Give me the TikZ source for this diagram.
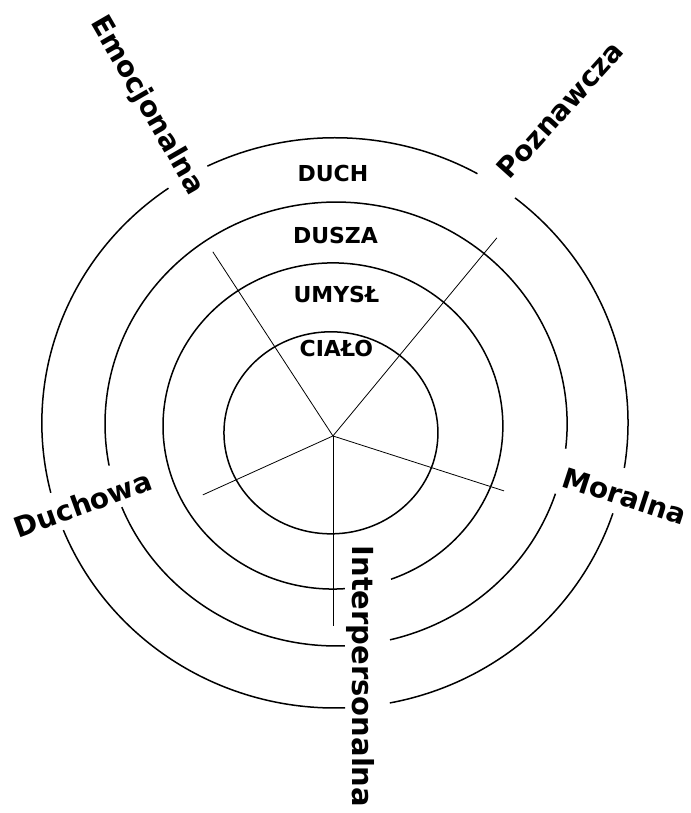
\documentclass[tikz,border=0pt]{standalone}
\usepackage{fontspec}
\setmainfont{DejaVu Sans}
\usepackage{tikz}

\tikzset{
  ring/.style={line width=1.5pt},
  spoke/.style={line width=0.8pt},
  ringlabel/.style={font=\fontsize{22}{24}\selectfont\bfseries, inner sep=0pt},
  sidelabel/.style={font=\fontsize{28}{30}\selectfont\bfseries, inner sep=0pt}
}

\begin{document}
\begin{tikzpicture}
  \useasboundingbox (-11.70,-13.25) rectangle (12.55,15.32);

  % centres of the rings
  \coordinate (c) at (0,0);
  \coordinate (r1) at (-0.07,0.11);
  \coordinate (r2) at (0,0.35);
  \coordinate (r3) at (0.11,0.42);
  \coordinate (r4) at (0.07,0.46);

  % rings
  \draw[ring] (r1) ellipse[x radius=3.76, y radius=3.55];
  \draw[ring] (r2) ++(290:5.97 and 5.73) arc[start angle=290, end angle=634, x radius=5.97, y radius=5.73];
  \foreach \a/\b in {283.5/341.7, 353.6/550.8, 202/272.2}
    \draw[ring] (r3) ++(\a:8.12 and 7.80) arc[start angle=\a, end angle=\b, x radius=8.12, y radius=7.80];
  \foreach \a/\b in {280.8/341.5, 350.9/412.1, 60.9/115.8, 124.6/194.2, 202.1/272}
    \draw[ring] (r4) ++(\a:10.30 and 10.02) arc[start angle=\a, end angle=\b, x radius=10.30, y radius=10.02];

  % spokes
  \coordinate (emo) at (-4.22,6.47);
  \coordinate (poz) at (5.76,6.96);
  \coordinate (duc) at (-4.57,-2.07);
  \coordinate (mor) at (6.01,-1.93);
  \coordinate (int) at (0,-6.68);
  \foreach \e in {emo,poz,duc,mor,int}
    \draw[spoke] (c) -- (\e);

  % ring names
  \node[ringlabel] (duch) at (0,9.24) {DUCH};
  \node[ringlabel] (dusza) at (0.09,7.03) {DUSZA};
  \node[ringlabel] (umysl) at (0.12,4.96) {UMYSŁ};
  \node[ringlabel] (cialo) at (0.12,3.09) {CIAŁO};

  % sides
  \node[sidelabel, rotate=-60] (lemo) at (-6.54,11.60) {Emocjonalna};
  \node[sidelabel, rotate=48] (lpoz) at (7.98,11.46) {Poznawcza};
  \node[sidelabel, rotate=20] (lduc) at (-8.79,-2.39) {Duchowa};
  \node[sidelabel, rotate=-18] (lmor) at (10.26,-2.11) {Moralna};
  \node[sidelabel, font=\fontsize{29}{31}\selectfont\bfseries, rotate=-90] (lint) at (0.97,-8.45) {Interpersonalna};
\end{tikzpicture}
\end{document}
